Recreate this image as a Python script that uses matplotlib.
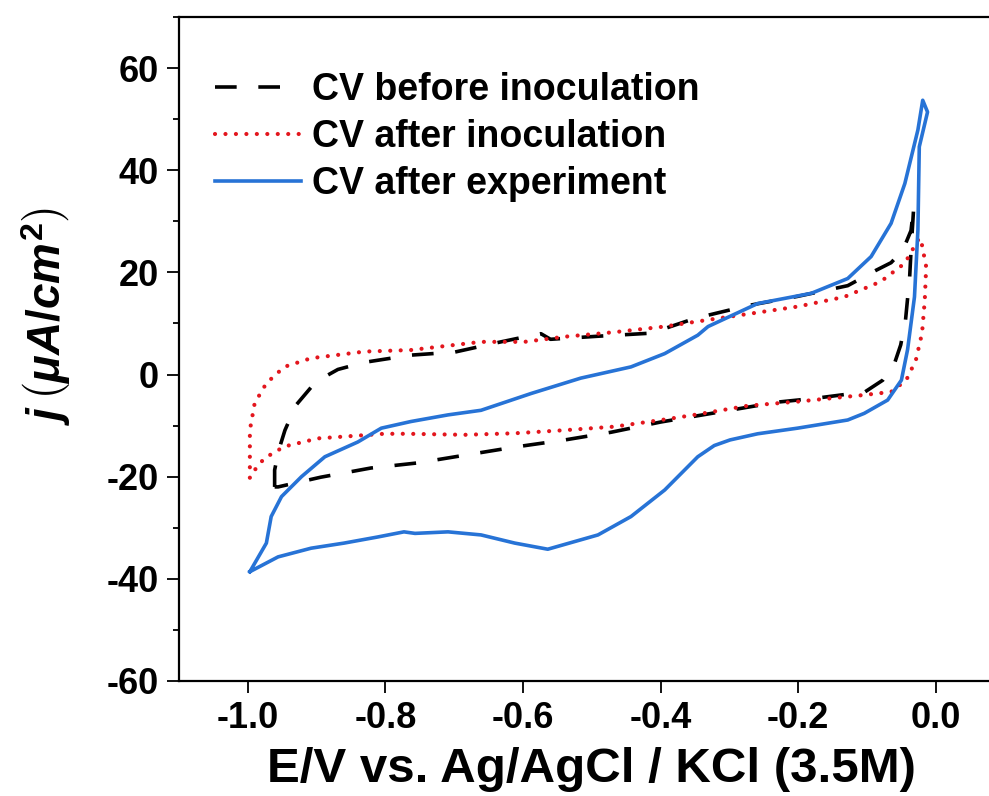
import matplotlib
matplotlib.use("Agg")
import matplotlib.pyplot as plt
from matplotlib.ticker import MultipleLocator

# potentiel E (V vs Ag/AgCl) et densité de courant j (µA/cm²)
E_avant = [-0.961, -0.961, -0.955, -0.946, -0.930, -0.908, -0.885, -0.869, -0.830, -0.763, -0.699,
           -0.632, -0.593, -0.574, -0.560, -0.491, -0.414, -0.350, -0.273, -0.201, -0.128,
           -0.087, -0.065, -0.048, -0.036, -0.032, -0.036, -0.038, -0.044, -0.051, -0.060,
           -0.077, -0.103, -0.172, -0.230, -0.317, -0.400, -0.472, -0.539, -0.612, -0.685,
           -0.753, -0.821, -0.894, -0.956, -0.961]
j_avant = [-22.0, -18.7, -14.8, -10.9, -6.0, -2.5, -0.2, 1.0, 2.4, 3.8, 4.4,
           6.4, 7.5, 8.0, 6.9, 7.5, 8.1, 11.0, 13.5, 15.3, 17.4,
           20.4, 21.9, 24.3, 28.2, 33.0, 24.3, 19.1, 10.7, 5.8, 2.2,
           -1.1, -3.4, -4.6, -5.4, -7.4, -9.3, -11.3, -12.8, -14.2, -15.8,
           -17.3, -18.3, -20.1, -22.0, -22.0]

E_apres = [-0.997, -0.997, -0.997, -0.990, -0.973, -0.947, -0.908, -0.830, -0.763, -0.680,
           -0.661, -0.598, -0.540, -0.467, -0.394, -0.351, -0.201, -0.133, -0.080, -0.045,
           -0.026, -0.022, -0.014, -0.016, -0.020, -0.029, -0.043, -0.065, -0.104, -0.201,
           -0.273, -0.351, -0.394, -0.467, -0.540, -0.612, -0.685, -0.767, -0.802, -0.898,
           -0.947, -0.976, -0.990, -0.997]
j_apres = [-20.2, -18.7, -10.9, -5.6, -1.7, 1.5, 3.2, 4.5, 4.8, 6.1,
           6.4, 6.4, 7.4, 8.3, 9.4, 10.3, 13.3, 15.2, 18.2, 21.8,
           26.3, 26.7, 21.1, 14.6, 8.1, 2.8, -1.1, -3.4, -4.0, -5.3,
           -6.1, -7.9, -8.8, -10.2, -10.9, -11.5, -11.8, -11.6, -11.6, -12.5,
           -14.1, -16.4, -18.7, -20.2]

E_experience = [-0.997, -0.973, -0.966, -0.951, -0.922, -0.888, -0.840, -0.806, -0.763, -0.709,
                -0.661, -0.588, -0.516, -0.443, -0.394, -0.346, -0.331, -0.259, -0.181, -0.128,
                -0.094, -0.065, -0.045, -0.026, -0.019, -0.012, -0.024, -0.026, -0.031, -0.041,
                -0.050, -0.070, -0.104, -0.128, -0.201, -0.259, -0.299, -0.322, -0.346, -0.394,
                -0.443, -0.491, -0.564, -0.612, -0.661, -0.709, -0.757, -0.773, -0.811, -0.860,
                -0.908, -0.956, -0.997]
j_experience = [-38.6, -33.0, -27.8, -23.9, -20.0, -16.1, -13.2, -10.5, -9.2, -7.9,
                -7.0, -3.7, -0.7, 1.5, 4.1, 7.7, 9.4, 13.9, 15.9, 18.8,
                23.1, 29.6, 37.4, 47.9, 53.7, 51.4, 44.6, 28.3, 15.2, 4.9,
                -1.1, -5.0, -7.6, -8.9, -10.5, -11.6, -12.8, -13.9, -16.1, -22.6,
                -27.8, -31.4, -34.2, -33.0, -31.4, -30.8, -31.1, -30.8, -31.8, -33.0,
                -34.0, -35.7, -38.6]

plt.rcParams['font.family'] = ['Liberation Sans', 'DejaVu Sans']
plt.rcParams['font.weight'] = 'bold'
plt.rcParams['axes.unicode_minus'] = False
plt.rcParams['mathtext.fontset'] = 'custom'
plt.rcParams['mathtext.it'] = 'Liberation Sans:bold:italic'
plt.rcParams['mathtext.rm'] = 'Liberation Sans:bold'
plt.rcParams['mathtext.bf'] = 'Liberation Sans:bold'

fig = plt.figure(figsize=(9.89, 7.96), dpi=100)
# l'axe déborde à droite : la figure d'origine est rognée après 0.07 V
ax = fig.add_axes([179 / 989, 115 / 796, 825.6 / 989, 664 / 796])

ax.plot(E_avant, j_avant, color='black', lw=2.6, linestyle=(0, (6, 6)),
        solid_joinstyle='round', dash_joinstyle='round', label='CV before inoculation')
ax.plot(E_apres, j_apres, color='#e3161d', lw=3.0, linestyle=(0, (0.01, 2.5)),
        dash_capstyle='round', label='CV after inoculation')
ax.plot(E_experience, j_experience, color='#2773d6', lw=2.6,
        solid_joinstyle='round', label='CV after experiment')

ax.set_xlim(-1.1, 0.1)
ax.set_ylim(-60, 70)
ax.set_xticks([-1.0, -0.8, -0.6, -0.4, -0.2, 0.0])
ax.set_xticklabels(['-1.0', '-0.8', '-0.6', '-0.4', '-0.2', '0.0'])
ax.set_yticks([-60, -40, -20, 0, 20, 40, 60])
ax.yaxis.set_minor_locator(MultipleLocator(10))
ax.tick_params(axis='both', which='major', length=8.5, width=1.3, labelsize=26, pad=6)
ax.tick_params(axis='y', which='minor', length=4.5, width=1.3)
for sp in ax.spines.values():
    sp.set_linewidth(1.6)

ax.set_xlabel('E/V vs. Ag/AgCl / KCl (3.5M)', fontsize=35.5, fontweight='bold', labelpad=8)
ax.set_ylabel(r'$j\,\left(\mu A/cm^2\right)$', fontsize=33)
ax.yaxis.set_label_coords(-0.128, 0.55)

ax.legend(loc='upper left', bbox_to_anchor=(0.025, 0.94), frameon=False, fontsize=27,
          handlelength=2.3, labelspacing=0.3, handletextpad=0.3, borderaxespad=0)

fig.savefig('out.png', dpi=100)
